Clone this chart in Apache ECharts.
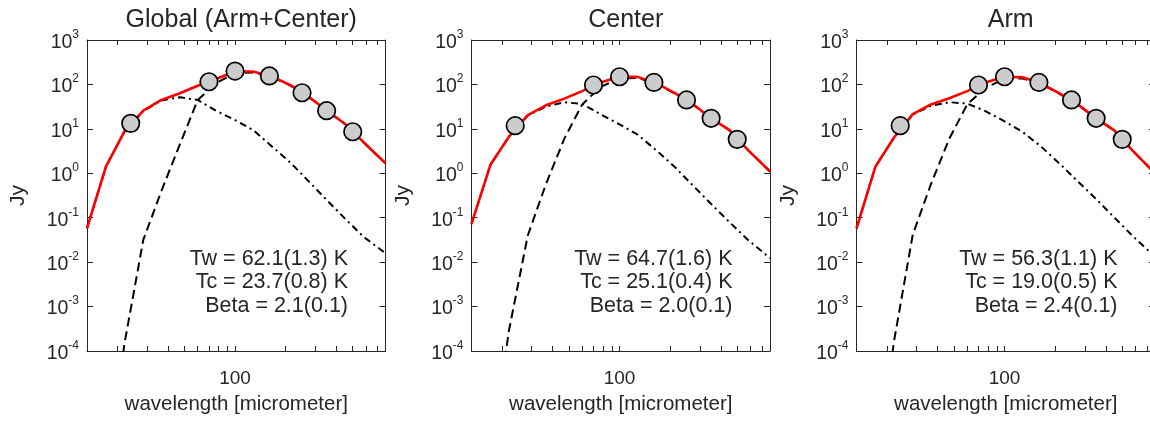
<!DOCTYPE html>
<html><head><meta charset="utf-8">
<script src="https://cdn.jsdelivr.net/npm/echarts@6/dist/echarts.min.js"></script>
<style>html,body{margin:0;padding:0;background:#fff;}#c{width:1150px;height:427px;}</style>
</head><body><div id="c"></div>
<script>
// ---------- data ----------
const panelTitles = ['Global (Arm+Center)', 'Center', 'Arm'];

// observed photometry (micrometer, Jy)
const obsWavelength = [24, 70, 100, 160, 250, 350, 500];
const obsGlobal = [13.3, 115, 200, 155, 65, 25.6, 8.6];
const obsCenter = [11.8, 97, 149, 111, 44.7, 17.3, 5.8];
const obsArm    = [11.8, 97, 149, 111, 44.7, 17.3, 5.8];

// model grid (micrometer)
const modelWavelength = [13.2, 17.1, 22, 28.5, 36.5, 47, 60, 77, 100, 128, 165, 212, 272, 350, 450, 580, 783];

// Global model components (Jy)
const totalGlobal = [0.0575, 1.41, 8.7, 25.7, 44.7, 63.1, 93.3, 132, 195, 195, 151, 97.7, 53.7, 26.3, 12.9, 5.01, 1.68];
const warmGlobal  = [0.0575, 1.41, 8.7, 25.1, 43.7, 51.3, 44.7, 25.7, 15.8, 9.44, 4.07, 1.78, 0.676, 0.251, 0.0955, 0.0372, 0.0158];
const coldGlobal  = [1e-10, 1e-7, 1.41e-4, 0.0316, 0.398, 4.47, 44.7, 107, 178, 186, 148, 95.5, 53.1, 26.0, 12.9, 5.01, 1.68];

// Center model components (Jy)
const totalCenter = [0.0724, 1.55, 6.61, 20.4, 33.9, 47.9, 70.8, 110, 148, 148, 107, 64.6, 36.3, 17.4, 9.33, 3.31, 1.10];
const warmCenter  = [0.0724, 1.55, 6.61, 20.0, 31.6, 39.8, 36.3, 21.4, 12.6, 7.41, 3.31, 1.41, 0.537, 0.204, 0.0794, 0.0316, 0.0123];
const coldCenter  = [3.16e-10, 3.16e-7, 2.82e-4, 0.0398, 0.562, 6.03, 35.5, 88.1, 135, 141, 104, 63.1, 35.5, 17.2, 9.33, 3.31, 1.10];

// Arm model components (Jy)
const totalArm = [0.0575, 1.41, 6.31, 21.4, 35.5, 49.0, 70.8, 110, 148, 145, 105, 63.1, 35.5, 17.4, 9.12, 3.16, 1.00];
const warmArm  = [0.0575, 1.41, 6.31, 20.9, 33.1, 39.8, 37.2, 25.1, 14.8, 8.51, 3.98, 1.66, 0.661, 0.263, 0.100, 0.0380, 0.0132];
const coldArm  = [1e-10, 1e-7, 1.58e-4, 0.0417, 0.562, 6.03, 35.5, 84.5, 133, 136, 101, 61.5, 34.8, 17.1, 9.08, 3.16, 1.00];

// fit results
const fitGlobal = ['Tw = 62.1(1.3) K', 'Tc = 23.7(0.8) K', 'Beta = 2.1(0.1)'];
const fitCenter = ['Tw = 64.7(1.6) K', 'Tc = 25.1(0.4) K', 'Beta = 2.0(0.1)'];
const fitArm    = ['Tw = 56.3(1.1) K', 'Tc = 19.0(0.5) K', 'Beta = 2.4(0.1)'];

// axes
const xRange = [13.2, 783];
const xTickValues = [20, 30, 40, 50, 60, 70, 80, 90, 100, 200, 300, 400, 500, 600, 700];
const xLabelValues = [100];
const yExpRange = [-4, 3];

// ---------- chart ----------
const FONT = '"Liberation Sans", Arial, Helvetica, sans-serif';
const INK = '#262626';
const L = Math.log10;

const panels = [
  {title: panelTitles[0], obs: obsGlobal, total: totalGlobal, warm: warmGlobal, cold: coldGlobal, fit: fitGlobal},
  {title: panelTitles[1], obs: obsCenter, total: totalCenter, warm: warmCenter, cold: coldCenter, fit: fitCenter},
  {title: panelTitles[2], obs: obsArm, total: totalArm, warm: warmArm, cold: coldArm, fit: fitArm}
];

const gridLeft = [87, 471.5, 856.5];
const gridW = 298.5, gridTop = 40, gridH = 311;

const grid = [], xAxis = [], yAxis = [], series = [], title = [], graphic = [];

panels.forEach((p, i) => {
  grid.push({left: gridLeft[i], top: gridTop, width: gridW, height: gridH, containLabel: false, outerBoundsMode: 'none'});
  ['bottom', 'top'].forEach(pos => {
    const isBottom = pos === 'bottom';
    xAxis.push({
      type: 'value', gridIndex: i, position: pos,
      min: L(xRange[0]), max: L(xRange[1]),
      axisLine: {show: true, onZero: false, lineStyle: {color: INK, width: 1}},
      axisTick: {show: true, inside: true, length: 5, customValues: xTickValues.map(L), lineStyle: {color: INK, width: 1}},
      axisLabel: isBottom ? {
        show: true, customValues: xLabelValues.map(L),
        formatter: v => String(Math.round(Math.pow(10, v))),
        margin: 18, fontSize: 19, color: INK, fontFamily: FONT
      } : {show: false},
      splitLine: {show: false},
      name: isBottom ? 'wavelength [micrometer]' : '',
      nameLocation: 'middle', nameGap: 43,
      nameTextStyle: {fontSize: 20.5, color: INK, fontFamily: FONT}
    });
  });
  ['left', 'right'].forEach(pos => {
    const isLeft = pos === 'left';
    yAxis.push({
      type: 'value', gridIndex: i, position: pos,
      min: yExpRange[0], max: yExpRange[1], interval: 1,
      axisLine: {show: true, onZero: false, lineStyle: {color: INK, width: 1}},
      axisTick: {show: true, inside: true, length: 6, lineStyle: {color: INK, width: 1}},
      axisLabel: isLeft ? {
        show: true, margin: 8, padding: [5, 0, 0, 0],
        formatter: v => '{b|10}{s|' + Math.round(v) + '}',
        rich: {
          b: {fontSize: 19.5, lineHeight: 28, color: INK, fontFamily: FONT},
          s: {fontSize: 12, lineHeight: 14, verticalAlign: 'top', color: INK, fontFamily: FONT}
        }
      } : {show: false},
      splitLine: {show: false},
      name: isLeft ? 'Jy' : '',
      nameLocation: 'middle', nameGap: 58, nameRotate: 90,
      nameTextStyle: {fontSize: 21, color: INK, fontFamily: FONT}
    });
  });

  const xi = 2 * i, yi = 2 * i;
  const toXY = arr => modelWavelength.map((w, k) => [L(w), L(arr[k])]);
  series.push({
    type: 'line', xAxisIndex: xi, yAxisIndex: yi, data: toXY(p.cold),
    symbol: 'none', showSymbol: false, clip: true, silent: true, z: 2,
    lineStyle: {color: '#000', width: 2, type: [9, 5]}
  });
  series.push({
    type: 'line', xAxisIndex: xi, yAxisIndex: yi, data: toXY(p.warm),
    symbol: 'none', showSymbol: false, clip: true, silent: true, z: 2,
    lineStyle: {color: '#000', width: 2, type: [7, 4, 2, 4]}
  });
  series.push({
    type: 'line', xAxisIndex: xi, yAxisIndex: yi, data: toXY(p.total),
    symbol: 'none', showSymbol: false, clip: true, silent: true, z: 3,
    lineStyle: {color: '#ff0000', width: 2.6}
  });
  series.push({
    type: 'scatter', xAxisIndex: xi, yAxisIndex: yi,
    data: obsWavelength.map((w, k) => [L(w), L(p.obs[k])]),
    symbol: 'circle', symbolSize: 17.5, silent: true, z: 4,
    itemStyle: {color: '#cccccc', borderColor: '#000', borderWidth: 1.7, opacity: 1}
  });

  title.push({
    text: p.title, left: gridLeft[i] + gridW / 2, top: 3, textAlign: 'center',
    textStyle: {fontSize: 25, fontWeight: 'normal', color: INK, fontFamily: FONT}
  });
  graphic.push({
    type: 'text', silent: true, z: 10,
    style: {
      text: p.fit.join('\n'), x: gridLeft[i] + 261, y: 282.5,
      align: 'right', verticalAlign: 'middle',
      fontSize: 21.5, fontFamily: FONT, fill: INK, lineHeight: 23.5
    }
  });
});

const chart = echarts.init(document.getElementById('c'), null, {renderer: 'canvas', width: 1150, height: 427});
chart.setOption({
  animation: false,
  backgroundColor: '#ffffff',
  title, grid, xAxis, yAxis, series, graphic
});
</script>
</body></html>
